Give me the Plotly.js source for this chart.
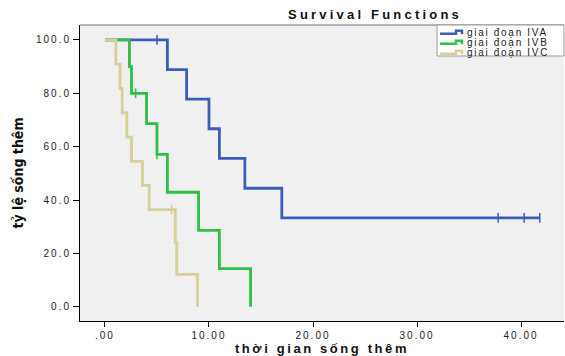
<!DOCTYPE html>
<html><head><meta charset="utf-8">
<script src="https://cdn.plot.ly/plotly-3.0.1.min.js"></script>
<style>
html,body{margin:0;padding:0;background:#fff;}
#chart{width:565px;height:356px;}
.xtick text,.ytick text{letter-spacing:2px;}
.gtitle{letter-spacing:3.2px;}
.xtitle{letter-spacing:2.6px;}
.annotation-text{letter-spacing:1.7px;}
</style></head><body><div id="chart"></div>
<script>
// ---- data ----
const seriesNames = ['giai đoạn IVA', 'giai đoạn IVB', 'giai đoạn IVC'];
const ivaTime = [0, 6.0, 7.85, 10.0, 11.0, 13.45, 17.0, 41.8];
const ivaSurv = [100, 88.9, 77.8, 66.7, 55.6, 44.4, 33.3, 33.3];
const ivaCensTime = [5.0, 37.8, 40.3, 41.8];
const ivaCensSurv = [100, 33.3, 33.3, 33.3];

const ivbTime = [0, 2.35, 2.55, 4.0, 5.0, 6.0, 9.0, 11.0, 14.0];
const ivbSurv = [100, 90.0, 80.0, 68.6, 57.1, 42.9, 28.6, 14.3, 0];
const ivbCensTime = [2.95, 5.0];
const ivbCensSurv = [80.0, 57.1];

const ivcTime = [0, 1.05, 1.45, 1.65, 2.1, 2.55, 3.6, 4.25, 6.75, 6.9, 8.9];
const ivcSurv = [100, 90.9, 81.8, 72.7, 63.6, 54.5, 45.5, 36.4, 24.2, 12.1, 0];
const ivcCensTime = [6.4];
const ivcCensSurv = [36.4];

const xTickVals = [0, 10, 20, 30, 40];
const xTickText = ['.00', '10.00', '20.00', '30.00', '40.00'];
const yTickVals = [0, 20, 40, 60, 80, 100];
const yTickText = ['0.0', '20.0', '40.0', '60.0', '80.0', '100.0'];

const colors = ['#3D5CB8', '#30BF4A', '#D6CF98'];
const font = 'Liberation Sans, Arial, Helvetica, sans-serif';

// ---- traces ----
const lineSets = [[ivaTime, ivaSurv], [ivbTime, ivbSurv], [ivcTime, ivcSurv]];
const censSets = [[ivaCensTime, ivaCensSurv], [ivbCensTime, ivbCensSurv], [ivcCensTime, ivcCensSurv]];
const traces = [];
lineSets.forEach((s, i) => {
  traces.push({
    x: s[0], y: s[1], name: seriesNames[i], type: 'scatter', mode: 'lines',
    line: {shape: 'hv', color: colors[i], width: 2.8}, showlegend: false, hoverinfo: 'x+y+name'
  });
  traces.push({
    x: censSets[i][0], y: censSets[i][1], name: seriesNames[i] + ' censored', type: 'scatter', mode: 'markers',
    marker: {symbol: 'line-ns-open', size: 7, color: colors[i], line: {color: colors[i], width: 1.5}},
    showlegend: false
  });
});

// ---- layout helpers (pixel -> paper) ----
const L = 80, R = 1, T = 25, B = 35, W = 565, H = 356;
const pw = W - L - R, ph = H - T - B;
const px = v => (v - L) / pw;
const py = v => (H - B - v) / ph;

const shapes = [
  {type: 'line', xref: 'paper', yref: 'paper', x0: 0, x1: 1, y0: 1, y1: 1, line: {color: '#6e6e6e', width: 1}},
  {type: 'rect', xref: 'paper', yref: 'paper', x0: px(437), x1: px(564), y0: py(56), y1: 1,
   fillcolor: '#ffffff', line: {color: '#9a9a9a', width: 1}, layer: 'above'}
];
const annotations = [];
const rowY = [32.3, 42.3, 52.3];
seriesNames.forEach((n, i) => {
  const yc = rowY[i];
  shapes.push({type: 'path', xref: 'paper', yref: 'paper', layer: 'above',
    path: `M ${px(440)},${py(yc + 1.5)} L ${px(456)},${py(yc + 1.5)} L ${px(456)},${py(yc - 1.5)} L ${px(462)},${py(yc - 1.5)} L ${px(462)},${py(yc + 2)}`,
    line: {color: colors[i], width: 2.5}});
  annotations.push({xref: 'paper', yref: 'paper', x: px(465), y: py(yc), xanchor: 'left', yanchor: 'middle',
    text: n, showarrow: false, font: {family: font, size: 10, color: '#222'}});
});

const layout = {
  width: W, height: H,
  margin: {l: L, r: R, t: T, b: B},
  paper_bgcolor: '#ffffff', plot_bgcolor: '#F0F0F0',
  showlegend: false,
  title: {text: 'Survival Functions', font: {family: font, size: 13, color: '#111', weight: 'bold'},
          x: px(375), xref: 'paper', xanchor: 'center', y: 1 - 14 / H, yref: 'container', yanchor: 'middle'},
  xaxis: {range: [-2.4, 44.13], tickvals: xTickVals, ticktext: xTickText, showgrid: false, zeroline: false,
          showline: true, linecolor: '#000', linewidth: 1, ticks: 'outside', ticklen: 5, tickcolor: '#000',
          tickfont: {family: font, size: 10, color: '#222'},
          title: {text: 'thời gian sống thêm', font: {family: font, size: 13, color: '#111', weight: 'bold'}, standoff: 8}},
  yaxis: {range: [-5.36, 105.6], tickvals: yTickVals, ticktext: yTickText, showgrid: false, zeroline: false,
          showline: true, linecolor: '#000', linewidth: 1, ticks: 'outside', ticklen: 6, tickcolor: '#000',
          tickfont: {family: font, size: 10, color: '#222'},
          title: {text: 'tỷ lệ sống thêm', font: {family: 'Liberation Sans Narrow, Arial Narrow, DejaVu Sans Condensed, sans-serif', size: 14, color: '#111', weight: 'bold'}, standoff: 9}},
  shapes: shapes, annotations: annotations
};

Plotly.newPlot('chart', traces, layout, {displayModeBar: false, staticPlot: true});
</script></body></html>
